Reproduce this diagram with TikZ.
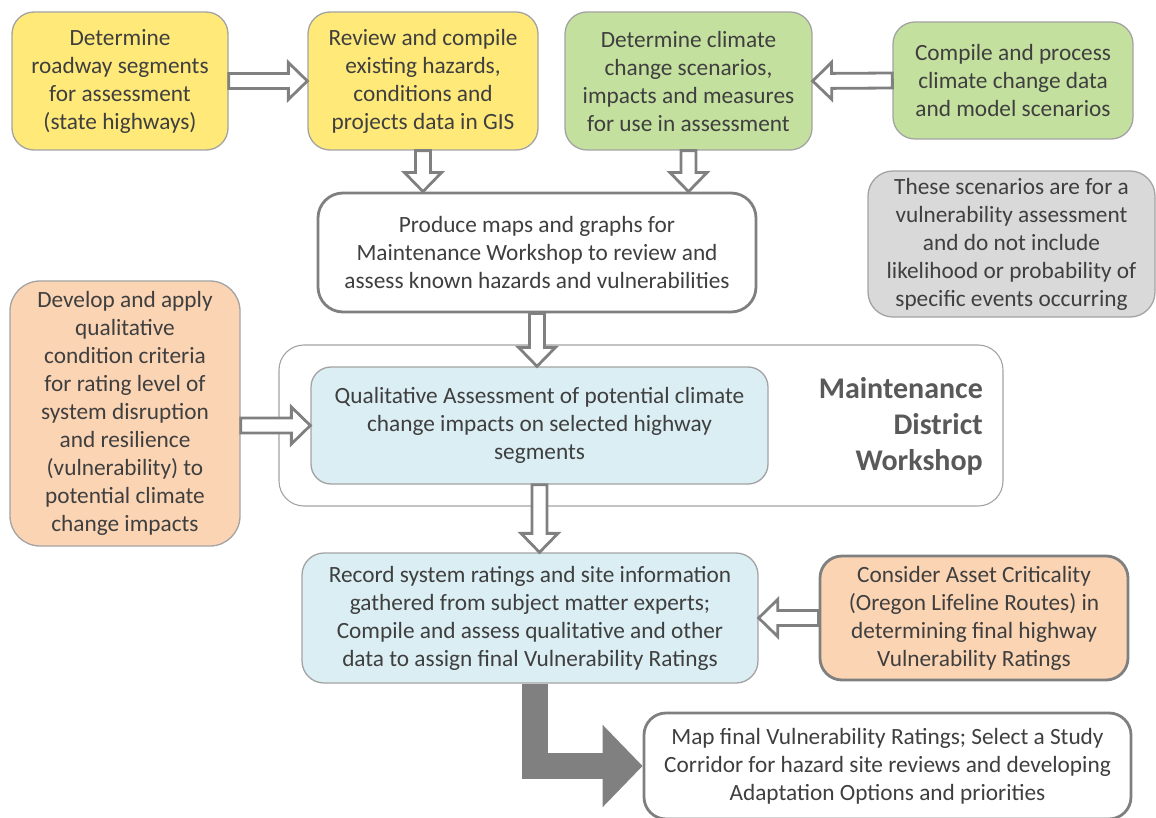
\documentclass[tikz,border=0pt]{standalone}
\usepackage{fontspec}
\setmainfont{Carlito}
\usetikzlibrary{calc,arrows.meta}
\definecolor{txt}{HTML}{3F3F3F}
\definecolor{thinb}{HTML}{A3A3A3}
\definecolor{thickb}{HTML}{7F7F7F}
\definecolor{arrg}{HTML}{808080}
\definecolor{yelF}{HTML}{FFE979}
\definecolor{grnF}{HTML}{C4E09E}
\definecolor{ornF}{HTML}{FBD4B4}
\definecolor{bluF}{HTML}{DAEEF3}
\definecolor{gryF}{HTML}{D9D9D9}
\definecolor{wsT}{HTML}{595959}
\tikzset{
  bx/.style={draw=thinb, line width=1.3pt, rounded corners=22pt, align=center,
    text=txt, font=\fontsize{23.3}{28}\selectfont, inner sep=0pt},
  bxthick/.style={bx, draw=thickb, line width=2.8pt},
  hollow/.style={draw=arrg, line width=2.8pt, fill=white, line join=miter,
    to path={
      ($(\tikztotarget)!19pt!(\tikztostart)$) coordinate (bah)
      ($(\tikztostart)!7.5pt!90:(\tikztotarget)$)
      -- ($(bah)!7.5pt!-90:(\tikztostart)$)
      -- ($(bah)!18.5pt!-90:(\tikztostart)$)
      -- (\tikztotarget)
      -- ($(bah)!18.5pt!90:(\tikztostart)$)
      -- ($(bah)!7.5pt!90:(\tikztostart)$)
      -- ($(\tikztostart)!7.5pt!-90:(\tikztotarget)$) -- cycle}},
  solidarrow/.style={draw=arrg, line width=26pt, line join=miter,
    -{Triangle[width=80pt,length=40pt]}}
}
\begin{document}
\begin{tikzpicture}[x=1pt,y=-1pt]
\useasboundingbox (0,0) rectangle (1156,818);
% top row
\node[bx, fill=yelF, minimum width=216pt, minimum height=138pt] (A) at (120,81)
  {Determine\\roadway segments\\for assessment\\(state highways)};
\node[bx, fill=yelF, minimum width=230pt, minimum height=138pt] (B) at (423,81)
  {Review and compile\\existing hazards,\\conditions and\\projects data in GIS};
\node[bx, fill=grnF, minimum width=247pt, minimum height=138pt] (C) at (688.5,81)
  {Determine climate\\change scenarios,\\impacts and measures\\for use in assessment};
\node[bx, fill=grnF, minimum width=240pt, minimum height=117pt] (D) at (1013,80.5)
  {Compile and process\\climate change data\\and model scenarios};
% produce maps
\node[bxthick, fill=white, minimum width=438pt, minimum height=119pt, rounded corners=25pt] (E) at (537,252.5)
  {Produce maps and graphs for\\Maintenance Workshop to review and\\assess known hazards and vulnerabilities};
% note
\node[bx, fill=gryF, minimum width=287pt, minimum height=146pt, rounded corners=25pt] (F) at (1011.5,244)
  {These scenarios are for a\\vulnerability assessment\\and do not include\\likelihood or probability of\\specific events occurring};
% criteria
\node[bx, fill=ornF, minimum width=230pt, minimum height=265pt, rounded corners=30pt] (G) at (125,413.5)
  {Develop and apply\\qualitative\\condition criteria\\for rating level of\\system disruption\\and resilience\\(vulnerability) to\\potential climate\\change impacts};
% workshop container
\node[draw=thinb, line width=1.1pt, fill=white, rounded corners=25pt, minimum width=724pt, minimum height=161pt, inner sep=0pt] (H) at (641,425.5) {};
\node[bx, fill=bluF, minimum width=457pt, minimum height=117pt, rounded corners=20pt] (I) at (539.5,425.5)
  {Qualitative Assessment of potential climate\\change impacts on selected highway\\segments};
\node[anchor=east, align=right, text=wsT, font=\fontsize{30}{36}\selectfont\bfseries, inner sep=0pt] (W) at (983,426)
  {Maintenance\\District\\Workshop};
% record
\node[bx, fill=bluF, minimum width=456pt, minimum height=130pt, rounded corners=22pt] (J) at (530,618)
  {Record system ratings and site information\\gathered from subject matter experts;\\Compile and assess qualitative and other\\data to assign final Vulnerability Ratings};
\node[bxthick, fill=ornF, minimum width=308pt, minimum height=124pt, rounded corners=22pt] (K) at (974,618)
  {Consider Asset Criticality\\(Oregon Lifeline Routes) in\\determining final highway\\Vulnerability Ratings};
\node[bxthick, fill=white, minimum width=487pt, minimum height=106pt, rounded corners=22pt] (L) at (887.5,766)
  {Map final Vulnerability Ratings; Select a Study\\Corridor for hazard site reviews and developing\\Adaptation Options and priorities};
% connectors
\coordinate (be) at (B.south |- E.north);
\coordinate (ce) at (C.south |- E.north);
\coordinate (ei) at (E.south |- I.north);
\coordinate (gi) at (G.east |- I.west);
\coordinate (ij) at (I.south |- J.north);
\coordinate (jb) at ($(J.south)+(5,0)$);
\draw[hollow] (A.east) to (B.west);
\draw[hollow] (D.west) to (C.east);
\draw[hollow] (B.south) to (be);
\draw[hollow] (C.south) to (ce);
\draw[hollow] (E.south) to (ei);
\draw[hollow] (gi) to (I.west);
\draw[hollow] (I.south) to (ij);
\draw[hollow] (K.west) to (J.east);
\draw[solidarrow] (jb) |- (L.west);
\end{tikzpicture}
\end{document}
